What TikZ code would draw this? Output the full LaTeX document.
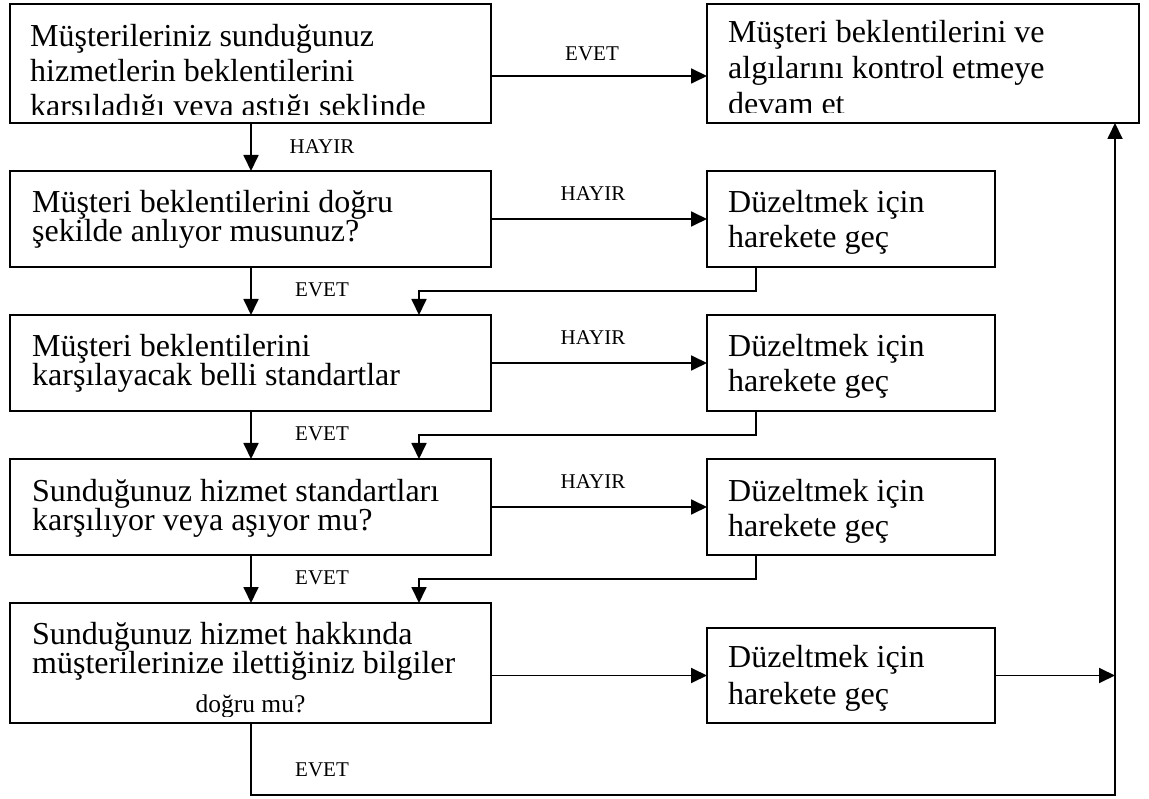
\documentclass[tikz,border=0pt]{standalone}
\usepackage{fontspec}
\setmainfont{Liberation Serif}
\usetikzlibrary{arrows.meta,calc}
\begin{document}
\begin{tikzpicture}[x=1pt,y=-1pt,
  box/.style={draw, line width=1.8pt, anchor=north west, inner sep=0pt, outer sep=0pt},
  txt/.style={anchor=base west, inner sep=0pt, font=\fontsize{32}{34}\selectfont},
  small/.style={anchor=base, inner sep=0pt, font=\fontsize{25.5}{28}\selectfont},
  lbl/.style={inner sep=0pt, font=\fontsize{21}{24}\selectfont},
  conn/.style={line width=1.8pt},
  arr/.style={conn, -{Triangle[length=16pt,width=15pt]}}]
\useasboundingbox (0,0) rectangle (1149,799);

% question boxes (left column) and action boxes (right column)
\node[box, minimum width=481pt, minimum height=119pt] (A) at (10,4) {};
\node[box, minimum width=432pt, minimum height=119pt] (B) at (707,4) {};
\node[box, minimum width=481pt, minimum height=96pt] (C) at (10,171) {};
\node[box, minimum width=288pt, minimum height=96pt] (D1) at (707,171) {};
\node[box, minimum width=481pt, minimum height=96pt] (E) at (10,315) {};
\node[box, minimum width=288pt, minimum height=96pt] (D2) at (707,315) {};
\node[box, minimum width=481pt, minimum height=96pt] (F) at (10,459) {};
\node[box, minimum width=288pt, minimum height=96pt] (D3) at (707,459) {};
\node[box, minimum width=481pt, minimum height=120pt] (G) at (10,603) {};
\node[box, minimum width=288pt, minimum height=95pt] (D4) at (707,628) {};

% box texts (the top boxes and the last box cut their overflowing lines)
\begin{scope}
  \clip (A.north west) rectangle ($(A.south east)+(0,-8)$);
  \node[txt] (a1) at (30,47) {Müşterileriniz sunduğunuz};
  \node[txt] (a2) at (30,82) {hizmetlerin beklentilerini};
  \node[txt] (a3) at (30,117) {karşıladığı veya aştığı şeklinde};
\end{scope}
\begin{scope}
  \clip (B.north west) rectangle ($(B.south east)+(0,-10)$);
  \node[txt] (b1) at (728,43) {Müşteri beklentilerini ve};
  \node[txt] (b2) at (728,79) {algılarını kontrol etmeye};
  \node[txt] (b3) at (728,115) {devam et};
\end{scope}
\node[txt] (c1) at (32,213) {Müşteri beklentilerini doğru};
\node[txt] (c2) at (32,242) {şekilde anlıyor musunuz?};
\node[txt] (e1) at (32,357) {Müşteri beklentilerini};
\node[txt] (e2) at (32,386) {karşılayacak belli standartlar};
\node[txt] (f1) at (32,501) {Sunduğunuz hizmet standartları};
\node[txt] (f2) at (32,530) {karşılıyor veya aşıyor mu?};
\begin{scope}
  \clip (G.north west) rectangle ($(G.south east)+(0,-7)$);
  \node[txt] (g1) at (32,644) {Sunduğunuz hizmet hakkında};
  \node[txt] (g2) at (32,673) {müşterilerinize ilettiğiniz bilgiler};
  \node[small] (g3) at (250.5,712) {doğru mu?};
\end{scope}
\node[txt] (d1a) at (728,213) {Düzeltmek için};
\node[txt] (d1b) at (728,248) {harekete geç};
\node[txt] (d2a) at (728,357) {Düzeltmek için};
\node[txt] (d2b) at (728,392) {harekete geç};
\node[txt] (d3a) at (728,501) {Düzeltmek için};
\node[txt] (d3b) at (728,536) {harekete geç};
\node[txt] (d4a) at (728,667) {Düzeltmek için};
\node[txt] (d4b) at (728,704) {harekete geç};

% connectors
\coordinate (rl) at (1115,795);
\draw[arr] ($(A.north east)+(0,72)$) -- ($(B.north west)+(0,72)$);
\draw[arr] ($(A.south west)+(241,0)$) -- ($(C.north west)+(241,0)$);
\draw[arr] (C.east) -- (D1.west);
\draw[arr] (E.east) -- (D2.west);
\draw[arr] (F.east) -- (D3.west);
\draw[arr] (G.east |- D4.west) -- (D4.west);
\draw[arr] ($(C.south west)+(241,0)$) -- ($(E.north west)+(241,0)$);
\draw[arr] ($(E.south west)+(241,0)$) -- ($(F.north west)+(241,0)$);
\draw[arr] ($(F.south west)+(241,0)$) -- ($(G.north west)+(241,0)$);
\draw[arr] ($(D1.south west)+(49,0)$) -- ++(0,24) -| ($(E.north west)+(409,0)$);
\draw[arr] ($(D2.south west)+(49,0)$) -- ++(0,24) -| ($(F.north west)+(409,0)$);
\draw[arr] ($(D3.south west)+(49,0)$) -- ++(0,24) -| ($(G.north west)+(409,0)$);
\draw[arr] (D4.east) -- (D4.east -| rl);
\draw[arr] ($(G.south west)+(241,0)$) |- (rl) -- ($(B.south east)+(-24,0)$);

% branch labels
\node[lbl] (l1) at (592,54) {EVET};
\node[lbl] (l2) at (322,147) {HAYIR};
\node[lbl] (l3) at (593,194) {HAYIR};
\node[lbl] (l4) at (322,290) {EVET};
\node[lbl] (l5) at (593,338) {HAYIR};
\node[lbl] (l6) at (322,434) {EVET};
\node[lbl] (l7) at (593,482) {HAYIR};
\node[lbl] (l8) at (322,578) {EVET};
\node[lbl] (l9) at (322,770) {EVET};
\end{tikzpicture}
\end{document}
